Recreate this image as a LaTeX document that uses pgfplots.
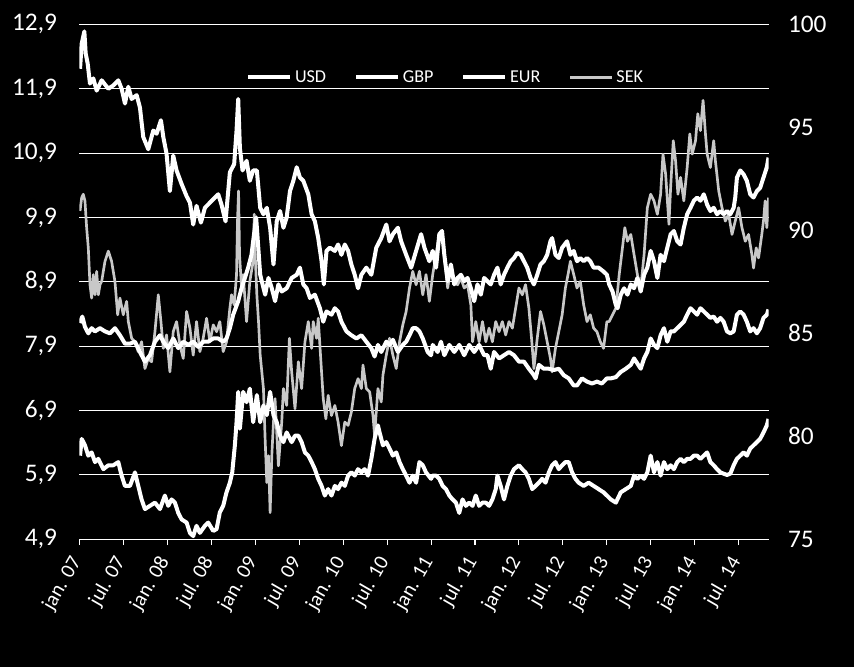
\documentclass[border=0pt]{standalone}
\usepackage{pgfplots}
\pgfplotsset{compat=1.18}
\usepackage{fontspec}
\setmainfont{Carlito}
\definecolor{sekgray}{RGB}{200,200,200}
\pgfplotsset{base/.style={at={(0,0)}, anchor=south west, scale only axis,
  width=517pt, height=386.25pt, xmin=2007, xmax=2014.84, clip=true}}
\begin{document}
\begin{tikzpicture}
\fill[black] (-59.5pt,-95.8pt) rectangle (581pt,404.5pt);
% frame, grid, left and x ticks
\begin{axis}[base, ymin=4.9, ymax=12.9,
  ytick={4.9,5.9,6.9,7.9,8.9,9.9,10.9,11.9,12.9},
  axis x line*=bottom, axis y line*=left,
  y axis line style={draw=none}, x axis line style={white, line width=0.8pt},
  ymajorgrids, grid style={white, line width=0.8pt},
  ytick style={draw=none}, xtick style={white, line width=0.8pt},
  tick align=outside, major tick length=4.3pt,
  xtick={2007,2007.5,2008,2008.5,2009,2009.5,2010,2010.5,2011,2011.5,2012,2012.5,2013,2013.5,2014,2014.5},
  xticklabels={jan. 07,jul. 07,jan. 08,jul. 08,jan. 09,jul. 09,jan. 10,jul. 10,jan. 11,jul. 11,jan. 12,jul. 12,jan. 13,jul. 13,jan. 14,jul. 14},
  xticklabel shift=7pt,
  xticklabel style={white, rotate=60, anchor=east, font=\fontsize{15.5}{17}\selectfont},
  yticklabel style={white, font=\fontsize{19}{21}\selectfont, xshift=-9pt},
  /pgf/number format/assume math mode=true,
  /pgf/number format/.cd, use comma, fixed, fixed zerofill, precision=1]
\end{axis}
% SEK on right axis
\begin{axis}[base, ymin=75, ymax=100, ytick={75,80,85,90,95,100},
  axis y line*=right, axis x line=none,
  y axis line style={draw=none}, ytick style={draw=none},
  yticklabel style={white, font=\fontsize{19}{21}\selectfont, xshift=11pt},
  /pgf/number format/assume math mode=true]
\addplot[sekgray, line width=2pt, line join=round] table {
2007.008 90.94
2007.027 91.59
2007.045 91.75
2007.064 91.43
2007.083 90.13
2007.102 89.15
2007.121 87.36
2007.140 86.71
2007.159 87.85
2007.178 86.87
2007.197 88.01
2007.216 86.87
2007.235 87.36
2007.254 87.52
2007.292 88.50
2007.330 88.99
2007.367 88.50
2007.405 87.52
2007.436 85.90
2007.462 86.71
2007.500 85.90
2007.538 86.55
2007.557 85.57
2007.595 84.76
2007.633 84.59
2007.670 84.11
2007.708 84.59
2007.746 83.29
2007.784 83.78
2007.822 83.62
2007.860 85.08
2007.898 86.87
2007.928 85.57
2007.955 84.27
2007.992 84.92
2008.030 83.13
2008.068 85.08
2008.106 85.57
2008.144 84.43
2008.182 83.78
2008.220 86.06
2008.258 85.25
2008.295 83.94
2008.333 85.57
2008.371 84.11
2008.409 84.76
2008.447 85.73
2008.485 84.59
2008.523 85.41
2008.561 85.08
2008.598 85.57
2008.636 84.11
2008.674 84.59
2008.712 86.22
2008.731 86.87
2008.761 86.38
2008.788 87.85
2008.799 90.45
2008.811 91.91
2008.822 88.82
2008.845 87.20
2008.864 87.85
2008.902 85.57
2008.939 87.52
2008.977 88.50
2008.990 90.78
2009.000 88.82
2009.019 86.87
2009.038 85.57
2009.057 83.94
2009.094 82.32
2009.113 79.88
2009.132 77.76
2009.151 79.06
2009.170 76.30
2009.189 79.06
2009.208 80.69
2009.226 81.83
2009.245 80.20
2009.264 78.57
2009.302 80.69
2009.321 82.32
2009.358 81.50
2009.389 84.76
2009.415 83.13
2009.453 81.34
2009.491 83.62
2009.528 82.32
2009.566 84.59
2009.604 85.57
2009.642 84.27
2009.660 85.57
2009.698 84.76
2009.717 85.73
2009.743 83.94
2009.774 81.83
2009.804 80.85
2009.830 81.99
2009.868 81.01
2009.906 81.50
2009.943 80.69
2009.981 79.55
2010.019 80.69
2010.057 80.53
2010.094 81.18
2010.132 82.32
2010.170 82.80
2010.208 82.32
2010.226 83.46
2010.264 82.32
2010.302 82.15
2010.340 81.01
2010.358 80.04
2010.396 82.32
2010.434 81.67
2010.453 82.97
2010.491 83.94
2010.528 84.76
2010.566 83.94
2010.604 83.29
2010.642 84.59
2010.679 85.41
2010.717 86.06
2010.755 87.20
2010.792 88.01
2010.830 87.36
2010.868 88.01
2010.906 86.87
2010.943 87.85
2010.981 86.55
2011.019 87.85
2011.057 88.82
2011.094 89.80
2011.125 89.96
2011.151 88.82
2011.189 87.20
2011.226 88.17
2011.264 87.52
2011.302 87.36
2011.340 87.68
2011.377 87.20
2011.415 87.36
2011.453 86.38
2011.472 84.59
2011.509 85.57
2011.547 84.59
2011.585 85.57
2011.623 84.59
2011.660 85.25
2011.698 84.59
2011.736 85.57
2011.774 85.08
2011.811 85.57
2011.849 84.92
2011.887 85.57
2011.925 85.25
2011.962 86.22
2012.000 87.20
2012.038 86.87
2012.075 87.36
2012.113 86.22
2012.143 84.76
2012.170 83.29
2012.208 84.76
2012.245 86.06
2012.283 85.41
2012.321 84.59
2012.358 83.78
2012.377 83.13
2012.415 84.27
2012.453 85.08
2012.491 85.90
2012.528 87.20
2012.558 87.85
2012.585 88.50
2012.623 87.85
2012.660 87.20
2012.698 87.52
2012.736 86.38
2012.774 85.57
2012.811 85.90
2012.849 85.25
2012.887 85.08
2012.925 84.59
2012.962 84.27
2013.000 85.57
2013.026 85.57
2013.064 85.90
2013.102 86.22
2013.140 87.85
2013.177 89.15
2013.204 90.13
2013.234 89.47
2013.272 89.80
2013.309 88.82
2013.347 87.85
2013.385 87.20
2013.423 88.82
2013.460 91.10
2013.498 91.75
2013.536 91.43
2013.574 90.78
2013.611 91.75
2013.638 93.70
2013.668 92.73
2013.706 90.29
2013.725 92.08
2013.755 94.35
2013.781 93.38
2013.808 91.75
2013.838 92.57
2013.875 91.43
2013.913 93.05
2013.943 94.68
2013.970 93.70
2014.008 94.35
2014.034 95.66
2014.064 94.84
2014.094 96.31
2014.121 94.68
2014.140 93.70
2014.177 93.05
2014.215 94.35
2014.234 93.38
2014.272 91.91
2014.309 91.10
2014.347 90.45
2014.385 90.78
2014.423 89.80
2014.460 90.45
2014.498 91.10
2014.536 90.13
2014.574 89.47
2014.611 89.80
2014.649 88.82
2014.668 88.17
2014.698 89.15
2014.725 88.66
2014.762 89.80
2014.781 90.45
2014.800 91.43
2014.819 90.13
2014.838 91.59
};
\end{axis}
% USD, GBP, EUR on left axis
\begin{axis}[base, ymin=4.9, ymax=12.9, hide axis,
  legend columns=4,
  legend style={at={(0.532,0.897)}, anchor=center, fill=none, draw=none,
    text=white, font=\fontsize{13.6}{15}\selectfont,
    /tikz/every even column/.append style={column sep=19pt}},
  legend image code/.code={\draw[#1] (0pt,0pt) -- (31.5pt,0pt);}]
\addplot[white, line width=3pt, line join=round] table {
2007.008 6.20
2007.027 6.46
2007.064 6.36
2007.102 6.20
2007.140 6.25
2007.178 6.10
2007.216 6.15
2007.273 5.99
2007.330 6.05
2007.386 6.05
2007.443 6.10
2007.481 5.89
2007.519 5.73
2007.576 5.73
2007.633 5.94
2007.670 5.73
2007.708 5.52
2007.746 5.37
2007.803 5.42
2007.860 5.47
2007.917 5.37
2007.973 5.58
2008.011 5.42
2008.049 5.52
2008.087 5.47
2008.125 5.31
2008.163 5.21
2008.220 5.16
2008.258 5.00
2008.295 4.95
2008.333 5.11
2008.371 5.00
2008.428 5.11
2008.466 5.16
2008.523 5.03
2008.561 5.06
2008.598 5.32
2008.636 5.42
2008.674 5.63
2008.712 5.78
2008.739 5.94
2008.769 6.36
2008.788 6.72
2008.807 7.19
2008.826 6.62
2008.864 7.19
2008.902 7.03
2008.939 7.24
2008.977 6.72
2009.019 7.14
2009.057 6.72
2009.094 6.98
2009.132 6.83
2009.170 7.19
2009.208 6.83
2009.245 6.72
2009.283 6.51
2009.321 6.41
2009.358 6.56
2009.415 6.41
2009.453 6.51
2009.491 6.51
2009.528 6.41
2009.566 6.25
2009.604 6.20
2009.642 6.10
2009.679 5.99
2009.717 5.84
2009.755 5.73
2009.792 5.58
2009.830 5.68
2009.868 5.58
2009.906 5.73
2009.943 5.68
2009.981 5.78
2010.019 5.73
2010.057 5.89
2010.094 5.94
2010.132 5.89
2010.170 5.99
2010.208 5.94
2010.245 5.99
2010.283 5.89
2010.321 6.15
2010.358 6.46
2010.396 6.67
2010.415 6.56
2010.453 6.36
2010.491 6.41
2010.528 6.31
2010.566 6.20
2010.604 6.25
2010.642 6.10
2010.679 5.99
2010.717 5.89
2010.755 5.78
2010.792 5.89
2010.830 5.78
2010.868 6.10
2010.906 6.05
2010.943 5.94
2011.000 5.84
2011.019 5.89
2011.057 5.89
2011.094 5.84
2011.132 5.73
2011.170 5.68
2011.208 5.58
2011.245 5.52
2011.283 5.47
2011.321 5.31
2011.358 5.52
2011.396 5.42
2011.434 5.47
2011.472 5.42
2011.509 5.58
2011.547 5.42
2011.585 5.47
2011.623 5.47
2011.660 5.42
2011.698 5.52
2011.736 5.68
2011.755 5.89
2011.792 5.73
2011.830 5.52
2011.868 5.73
2011.906 5.89
2011.943 5.99
2012.000 6.05
2012.038 5.99
2012.075 5.94
2012.113 5.84
2012.151 5.68
2012.189 5.73
2012.226 5.78
2012.264 5.84
2012.302 5.78
2012.340 5.94
2012.377 6.05
2012.415 6.10
2012.453 5.99
2012.491 6.05
2012.528 6.10
2012.566 6.10
2012.604 5.94
2012.642 5.84
2012.679 5.78
2012.736 5.73
2012.792 5.78
2012.849 5.73
2012.906 5.68
2012.962 5.63
2013.000 5.58
2013.045 5.52
2013.102 5.47
2013.158 5.63
2013.215 5.68
2013.272 5.73
2013.309 5.89
2013.347 5.84
2013.385 5.89
2013.423 5.84
2013.460 5.94
2013.498 6.20
2013.536 5.94
2013.574 6.10
2013.611 5.89
2013.649 6.10
2013.687 5.99
2013.725 6.05
2013.762 5.99
2013.800 6.10
2013.838 6.15
2013.875 6.10
2013.913 6.15
2013.951 6.15
2013.989 6.20
2014.026 6.20
2014.064 6.15
2014.102 6.20
2014.140 6.25
2014.177 6.10
2014.215 6.05
2014.253 5.99
2014.291 5.94
2014.328 5.92
2014.366 5.90
2014.404 5.92
2014.442 6.05
2014.479 6.15
2014.517 6.20
2014.555 6.25
2014.592 6.20
2014.630 6.31
2014.668 6.36
2014.706 6.41
2014.743 6.46
2014.781 6.56
2014.819 6.67
2014.838 6.77
};
\addlegendentry{USD}
\addplot[white, line width=3pt, line join=round] table {
2007.008 12.21
2007.027 12.60
2007.057 12.79
2007.072 12.45
2007.095 12.29
2007.121 11.98
2007.159 12.06
2007.197 11.87
2007.254 12.03
2007.330 11.90
2007.386 11.95
2007.443 12.03
2007.481 11.90
2007.519 11.67
2007.557 11.93
2007.595 11.74
2007.652 11.80
2007.689 11.61
2007.727 11.15
2007.784 10.96
2007.841 11.25
2007.879 11.20
2007.928 11.41
2007.955 11.15
2007.992 10.89
2008.030 10.31
2008.068 10.86
2008.106 10.63
2008.163 10.42
2008.220 10.23
2008.258 10.13
2008.295 9.79
2008.333 10.08
2008.383 9.82
2008.428 10.05
2008.485 10.13
2008.542 10.21
2008.580 10.26
2008.617 10.10
2008.663 9.84
2008.712 10.60
2008.761 10.73
2008.788 11.25
2008.807 11.74
2008.826 10.98
2008.856 10.63
2008.902 10.78
2008.939 10.47
2008.977 10.63
2009.019 10.63
2009.057 10.05
2009.094 9.95
2009.132 10.05
2009.170 9.74
2009.208 9.17
2009.245 9.84
2009.283 10.00
2009.321 9.74
2009.358 9.90
2009.396 10.31
2009.434 10.47
2009.472 10.68
2009.509 10.52
2009.547 10.47
2009.604 10.26
2009.642 9.95
2009.679 9.84
2009.717 9.58
2009.755 9.22
2009.781 8.86
2009.811 9.38
2009.849 9.43
2009.906 9.38
2009.943 9.48
2009.981 9.32
2010.019 9.48
2010.057 9.38
2010.094 9.17
2010.132 9.01
2010.170 8.80
2010.208 9.01
2010.264 9.12
2010.321 9.01
2010.377 9.43
2010.434 9.58
2010.491 9.79
2010.528 9.53
2010.566 9.64
2010.623 9.74
2010.660 9.53
2010.717 9.32
2010.774 9.12
2010.830 9.38
2010.887 9.64
2010.925 9.43
2010.981 9.22
2011.019 9.38
2011.057 9.12
2011.094 9.64
2011.125 9.69
2011.151 9.32
2011.189 8.91
2011.226 9.17
2011.264 8.86
2011.302 8.96
2011.340 9.01
2011.377 8.91
2011.415 8.96
2011.453 8.80
2011.491 8.60
2011.528 8.86
2011.566 8.70
2011.604 8.96
2011.642 8.91
2011.679 8.86
2011.717 9.01
2011.755 9.12
2011.792 8.86
2011.830 9.01
2011.868 9.12
2011.906 9.22
2011.943 9.27
2011.981 9.35
2012.019 9.32
2012.057 9.22
2012.094 9.12
2012.132 8.96
2012.170 8.86
2012.208 9.01
2012.245 9.17
2012.283 9.22
2012.321 9.32
2012.358 9.53
2012.377 9.58
2012.415 9.32
2012.453 9.27
2012.491 9.43
2012.547 9.53
2012.585 9.32
2012.623 9.38
2012.660 9.22
2012.698 9.27
2012.736 9.22
2012.774 9.27
2012.811 9.22
2012.849 9.12
2012.906 9.12
2012.962 9.06
2013.000 9.01
2013.026 8.86
2013.064 8.75
2013.102 8.54
2013.121 8.49
2013.158 8.70
2013.196 8.80
2013.234 8.70
2013.272 8.86
2013.309 8.80
2013.347 8.96
2013.385 8.75
2013.423 9.01
2013.460 9.12
2013.498 9.38
2013.536 9.22
2013.574 8.96
2013.611 9.32
2013.649 9.22
2013.687 9.43
2013.725 9.64
2013.762 9.69
2013.800 9.53
2013.838 9.48
2013.875 9.74
2013.913 9.95
2013.951 10.05
2013.989 10.16
2014.026 10.21
2014.064 10.16
2014.102 10.26
2014.140 10.10
2014.177 10.00
2014.215 10.05
2014.253 9.95
2014.291 10.00
2014.328 9.95
2014.366 10.00
2014.404 9.95
2014.442 10.05
2014.460 10.21
2014.479 10.52
2014.517 10.63
2014.555 10.57
2014.592 10.47
2014.630 10.26
2014.668 10.21
2014.706 10.31
2014.743 10.36
2014.781 10.52
2014.819 10.68
2014.838 10.83
};
\addlegendentry{GBP}
\addplot[white, line width=3pt, line join=round] table {
2007.008 8.26
2007.034 8.36
2007.064 8.20
2007.102 8.10
2007.140 8.18
2007.178 8.13
2007.235 8.18
2007.292 8.13
2007.348 8.10
2007.405 8.18
2007.462 8.07
2007.519 7.94
2007.576 7.94
2007.633 7.97
2007.689 7.81
2007.746 7.66
2007.803 7.76
2007.860 7.97
2007.917 8.07
2007.955 7.97
2008.011 7.87
2008.068 8.02
2008.125 7.87
2008.182 7.97
2008.239 7.92
2008.295 7.97
2008.352 7.89
2008.409 7.97
2008.466 7.97
2008.523 8.02
2008.580 8.02
2008.636 7.97
2008.674 8.02
2008.712 8.18
2008.750 8.39
2008.807 8.60
2008.845 8.80
2008.883 8.96
2008.920 9.12
2008.958 9.32
2008.996 9.74
2009.011 9.90
2009.057 9.01
2009.113 8.70
2009.151 8.96
2009.189 8.80
2009.226 8.60
2009.264 8.86
2009.302 8.75
2009.358 8.80
2009.415 8.96
2009.472 9.01
2009.509 9.12
2009.547 8.86
2009.585 8.80
2009.623 8.65
2009.679 8.70
2009.736 8.49
2009.774 8.28
2009.811 8.44
2009.868 8.39
2009.906 8.49
2009.943 8.44
2009.981 8.28
2010.038 8.13
2010.094 8.07
2010.151 8.02
2010.208 8.07
2010.264 7.97
2010.321 7.87
2010.358 7.74
2010.396 7.92
2010.434 7.81
2010.491 7.97
2010.528 7.92
2010.566 8.00
2010.623 7.81
2010.679 7.92
2010.717 7.97
2010.755 8.07
2010.792 8.18
2010.830 8.18
2010.868 8.13
2010.906 8.02
2010.962 7.81
2011.000 7.76
2011.019 7.92
2011.075 7.81
2011.113 7.97
2011.151 7.76
2011.208 7.92
2011.264 7.81
2011.321 7.92
2011.377 7.76
2011.434 7.92
2011.491 7.81
2011.547 7.92
2011.604 7.76
2011.642 7.76
2011.679 7.55
2011.717 7.81
2011.774 7.71
2011.830 7.76
2011.887 7.81
2011.943 7.76
2012.000 7.66
2012.057 7.66
2012.113 7.55
2012.170 7.45
2012.189 7.40
2012.226 7.61
2012.283 7.55
2012.340 7.55
2012.396 7.53
2012.453 7.55
2012.509 7.45
2012.566 7.40
2012.623 7.29
2012.660 7.29
2012.717 7.40
2012.774 7.35
2012.830 7.32
2012.887 7.35
2012.943 7.32
2013.000 7.40
2013.045 7.40
2013.102 7.42
2013.158 7.50
2013.215 7.55
2013.272 7.61
2013.309 7.71
2013.347 7.63
2013.385 7.55
2013.423 7.71
2013.460 7.81
2013.498 8.02
2013.536 7.92
2013.574 7.87
2013.611 8.07
2013.649 8.18
2013.687 7.97
2013.725 8.13
2013.762 8.13
2013.800 8.18
2013.838 8.23
2013.875 8.28
2013.913 8.39
2013.951 8.49
2013.989 8.44
2014.026 8.39
2014.064 8.49
2014.102 8.44
2014.140 8.39
2014.177 8.34
2014.215 8.36
2014.253 8.28
2014.291 8.34
2014.328 8.28
2014.366 8.13
2014.404 8.10
2014.442 8.13
2014.479 8.39
2014.517 8.44
2014.555 8.39
2014.592 8.28
2014.630 8.13
2014.668 8.18
2014.706 8.10
2014.743 8.18
2014.781 8.34
2014.819 8.39
2014.838 8.47
};
\addlegendentry{EUR}
\addlegendimage{sekgray, line width=2.5pt}
\addlegendentry{SEK}
\end{axis}
\end{tikzpicture}
\end{document}
